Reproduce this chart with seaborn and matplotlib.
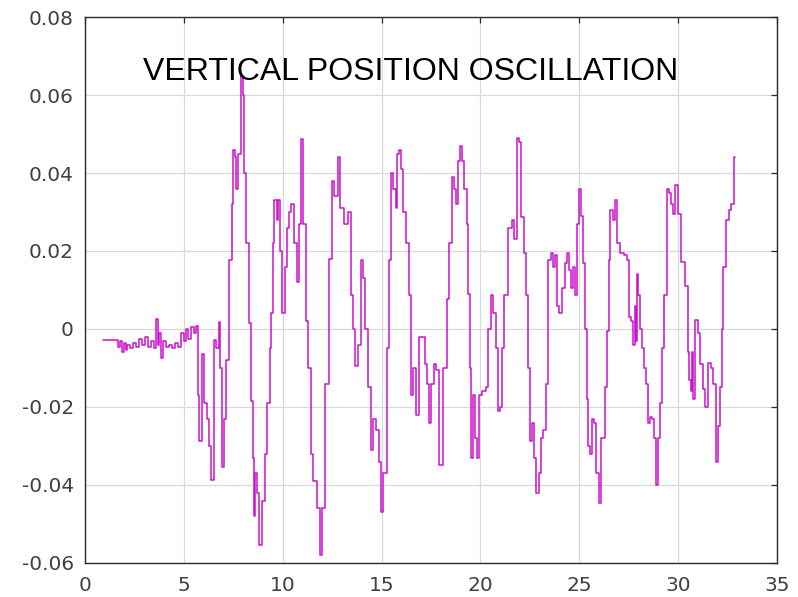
import matplotlib.pyplot as plt
import matplotlib.ticker as mticker
import numpy as np
import pandas as pd
import seaborn as sns

# time (s) and vertical position
time_s = [
    0.91, 1.58, 1.65, 1.75, 1.85, 1.95, 2.05, 2.15, 2.3, 2.45, 2.6, 2.75, 2.9, 3.05,
    3.2, 3.35, 3.5, 3.6, 3.68, 3.75, 3.85, 3.95, 4.1, 4.25, 4.4, 4.55, 4.7, 4.85,
    5.0, 5.1, 5.2, 5.35, 5.5, 5.6, 5.7, 5.78, 5.9, 6.0, 6.15, 6.25, 6.38, 6.55,
    6.65, 6.77, 6.85, 6.94, 7.05, 7.15, 7.3, 7.45, 7.5, 7.6, 7.65, 7.75, 7.9, 7.98,
    8.05, 8.15, 8.3, 8.4, 8.5, 8.55, 8.62, 8.72, 8.82, 8.95, 9.1, 9.2, 9.35, 9.42,
    9.5, 9.58, 9.7, 9.78, 9.85, 9.97, 10.1, 10.2, 10.3, 10.4, 10.55, 10.75, 10.85,
    10.92, 11.05, 11.2, 11.3, 11.45, 11.55, 11.75, 11.9, 12.0, 12.15, 12.35, 12.5,
    12.6, 12.8, 12.9, 13.0, 13.1, 13.3, 13.45, 13.55, 13.65, 13.8, 13.96, 14.05,
    14.15, 14.3, 14.46, 14.55, 14.7, 14.85, 14.97, 15.1, 15.3, 15.4, 15.5, 15.6,
    15.72, 15.8, 15.9, 16.0, 16.1, 16.25, 16.38, 16.48, 16.6, 16.73, 16.9, 17.1,
    17.2, 17.3, 17.4, 17.5, 17.65, 17.75, 17.9, 18.1, 18.3, 18.4, 18.55, 18.65,
    18.75, 18.85, 18.95, 19.05, 19.15, 19.3, 19.4, 19.5, 19.55, 19.65, 19.75,
    19.85, 19.95, 20.1, 20.3, 20.4, 20.55, 20.65, 20.8, 20.9, 21.0, 21.1, 21.2,
    21.4, 21.6, 21.7, 21.85, 21.95, 22.06, 22.2, 22.3, 22.4, 22.5, 22.6, 22.7,
    22.8, 22.95, 23.05, 23.15, 23.3, 23.4, 23.55, 23.7, 23.8, 23.9, 24.0, 24.15,
    24.3, 24.4, 24.5, 24.6, 24.7, 24.8, 24.9, 24.97, 25.1, 25.2, 25.3, 25.4,
    25.47, 25.55, 25.65, 25.75, 25.85, 25.98, 26.1, 26.3, 26.4, 26.5, 26.57, 26.7,
    26.8, 26.9, 27.05, 27.25, 27.4, 27.5, 27.6, 27.7, 27.8, 27.85, 27.9, 28.0,
    28.1, 28.2, 28.3, 28.4, 28.5, 28.6, 28.7, 28.8, 28.9, 29.0, 29.1, 29.2, 29.3,
    29.44, 29.55, 29.65, 29.75, 29.86, 30.0, 30.17, 30.34, 30.5, 30.55, 30.64,
    30.7, 30.76, 30.88, 31.0, 31.1, 31.26, 31.35, 31.52, 31.65, 31.75, 31.9,
    32.0, 32.1, 32.2, 32.3, 32.45, 32.57, 32.7, 32.8, 32.83, 32.9,
]
vertical_pos = [
    -0.0027, -0.0027, -0.0045, -0.0030, -0.0060, -0.0035, -0.0055, -0.0040,
    -0.0050, -0.0035, -0.0045, -0.0025, -0.0040, -0.0020, -0.0045, -0.0030,
    -0.0050, 0.0025, -0.0040, -0.0010, -0.0075, -0.0030, -0.0045, -0.0040,
    -0.0050, -0.0035, -0.0045, -0.0010, -0.0030, 0.0000, -0.0025, 0.0005,
    -0.0010, 0.0008, -0.0170, -0.0286, -0.0064, -0.0190, -0.0230, -0.0300,
    -0.0386, -0.0027, -0.0050, 0.0018, -0.0100, -0.0355, -0.0230, -0.0080,
    0.0177, 0.0320, 0.0460, 0.0440, 0.0360, 0.0450, 0.0650, 0.0600, 0.0400,
    0.0220, 0.0015, -0.0185, -0.0330, -0.0480, -0.0370, -0.0420, -0.0555,
    -0.0440, -0.0320, -0.0190, -0.0050, 0.0040, 0.0220, 0.0330, 0.0280, 0.0330,
    0.0200, 0.0040, 0.0160, 0.0260, 0.0300, 0.0320, 0.0220, 0.0120, 0.0270,
    0.0486, 0.0270, 0.0020, -0.0100, -0.0320, -0.0390, -0.0460, -0.0580,
    -0.0460, -0.0140, 0.0180, 0.0380, 0.0340, 0.0440, 0.0310, 0.0310, 0.0270,
    0.0300, 0.0086, 0.0000, -0.0095, -0.0040, 0.0177, 0.0130, 0.0000, -0.0150,
    -0.0310, -0.0230, -0.0260, -0.0340, -0.0470, -0.0370, -0.0050, 0.0177,
    0.0400, 0.0360, 0.0310, 0.0450, 0.0460, 0.0410, 0.0300, 0.0220, 0.0086,
    -0.0170, -0.0100, -0.0220, -0.0020, -0.0020, -0.0090, -0.0140, -0.0240,
    -0.0140, -0.0090, -0.0105, -0.0350, -0.0100, 0.0077, 0.0220, 0.0390, 0.0360,
    0.0320, 0.0430, 0.0470, 0.0430, 0.0360, 0.0270, 0.0090, -0.0100, -0.0330,
    -0.0170, -0.0280, -0.0330, -0.0170, -0.0160, -0.0150, 0.0000, 0.0086,
    0.0040, -0.0050, -0.0210, -0.0200, -0.0050, 0.0086, 0.0260, 0.0280, 0.0230,
    0.0490, 0.0480, 0.0286, 0.0195, 0.0086, -0.0100, -0.0287, -0.0240, -0.0330,
    -0.0420, -0.0370, -0.0280, -0.0260, -0.0140, 0.0177, 0.0195, 0.0160, 0.0190,
    0.0060, 0.0040, 0.0105, 0.0170, 0.0195, 0.0150, 0.0105, 0.0160, 0.0086,
    0.0270, 0.0360, 0.0290, 0.0170, 0.0000, -0.0180, -0.0300, -0.0320, -0.0230,
    -0.0240, -0.0370, -0.0445, -0.0280, -0.0150, -0.0005, 0.0177, 0.0305,
    0.0280, 0.0330, 0.0220, 0.0195, 0.0190, 0.0177, 0.0030, 0.0020, -0.0040,
    0.0060, -0.0030, 0.0140, 0.0086, 0.0000, -0.0050, -0.0100, -0.0140, -0.0240,
    -0.0225, -0.0230, -0.0280, -0.0400, -0.0280, -0.0190, -0.0050, 0.0086,
    0.0360, 0.0350, 0.0320, 0.0295, 0.0368, 0.0296, 0.0173, 0.0110, -0.0060,
    -0.0130, -0.0160, -0.0060, -0.0180, 0.0024, -0.0010, -0.0090, -0.0155,
    -0.0200, -0.0087, -0.0100, -0.0140, -0.0340, -0.0250, -0.0150, 0.0000,
    0.0160, 0.0280, 0.0305, 0.0320, 0.0320, 0.0440, 0.0440,
]

x_ticks = [0, 5, 10, 15, 20, 25, 30, 35]
y_ticks = [-0.06, -0.04, -0.02, 0, 0.02, 0.04, 0.06, 0.08]
y_tick_labels = ["-0.06", "-0.04", "-0.02", "0", "0.02", "0.04", "0.06", "0.08"]
title_text = "VERTICAL POSITION OSCILLATION"

df = pd.DataFrame({"time": time_s, "pos": vertical_pos})

sns.set_style("white")
plt.rcParams["xtick.direction"] = "in"
plt.rcParams["ytick.direction"] = "in"

fig = plt.figure(figsize=(7.98, 5.97), dpi=100)
ax = fig.add_axes([0.1065, 0.057, 0.867, 0.9145])

# sample-and-hold look of the original trace
sns.lineplot(
    ax=ax,
    data=df,
    x="time",
    y="pos",
    estimator=None,
    color="#cc11cc",
    linewidth=1.1,
    drawstyle="steps-post",
)

ax.set_xlim(0, 35)
ax.set_ylim(-0.06, 0.08)
ax.xaxis.set_major_locator(mticker.FixedLocator(x_ticks))
ax.yaxis.set_major_locator(mticker.FixedLocator(y_ticks))
ax.set_yticklabels(y_tick_labels)
ax.set_xlabel("")
ax.set_ylabel("")

# light grid + box with inward ticks on every side
ax.grid(True, color="#d9d9d9", linewidth=0.9)
ax.set_axisbelow(True)
for sp in ax.spines.values():
    sp.set_color("#2b2b2b")
    sp.set_linewidth(1.0)
ax.tick_params(axis="both", which="major", length=4, width=0.9, color="#2b2b2b",
               top=True, right=True, labelsize=14.5, labelcolor="#404040")
ax.tick_params(axis="y", pad=8)
ax.tick_params(axis="x", pad=9.5)

ax.text(0.470, 0.885, title_text, transform=ax.transAxes, ha="center",
        va="baseline", fontsize=23.0, color="black", family="Liberation Sans")

fig.savefig("out.png", dpi=100)
